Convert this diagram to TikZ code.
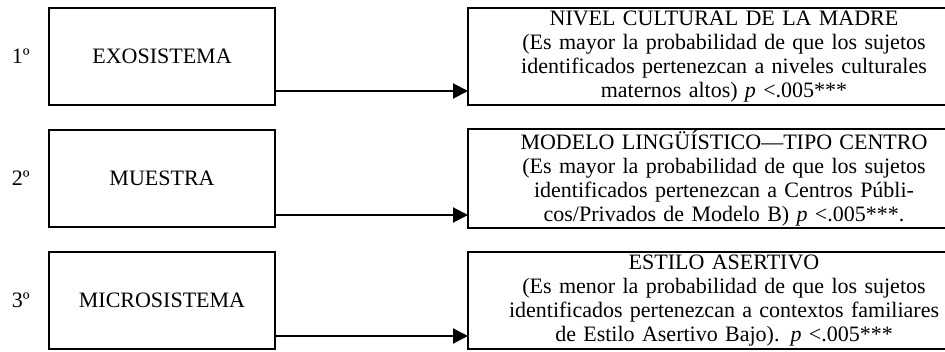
\documentclass[tikz,border=0pt]{standalone}
\usepackage{fontspec}
\setmainfont{Liberation Serif}
\usetikzlibrary{positioning,arrows.meta}
\tikzset{caja/.style={draw,line width=1pt,rectangle,outer sep=0pt,inner sep=0pt,minimum width=113pt,minimum height=48.5pt,node font=\fontsize{11}{12}\selectfont}}
\tikzset{res/.style={caja,text width=250pt,align=center,inner xsep=3pt,inner ysep=1pt}}
\tikzset{ord/.style={inner sep=0pt,node font=\fontsize{11}{12}\selectfont}}
\tikzset{flecha/.style={line width=1pt,-{Triangle[length=7.5pt,width=7.5pt]}}}

\begin{document}
\begin{tikzpicture}
        \useasboundingbox (0,0) rectangle (472.5pt,-176pt);
        \clip (0,0) rectangle (472.5pt,-176pt);
        \node (e1) [caja, anchor=north west] at (24.5pt,-4pt) {EXOSISTEMA};
        \node (e2) [caja, below= 12.5pt of e1] {MUESTRA};
        \node (e3) [caja, below= 12.5pt of e2] {MICROSISTEMA};
        \node (o1) [ord, left= 9.5pt of e1] {1º};
        \node (o2) [ord, left= 9.5pt of e2] {2º};
        \node (o3) [ord, left= 9.5pt of e3] {3º};
        \node (r1) [res, right= 96.5pt of e1] {NIVEL CULTURAL DE LA MADRE\\(Es mayor la probabilidad de que los sujetos\\identificados pertenezcan a niveles culturales\\maternos altos) \textit{p} <.005***};
        \node (r2) [res, right= 96.5pt of e2] {MODELO LINGÜÍSTICO—TIPO CENTRO\\(Es mayor la probabilidad de que los sujetos\\identificados pertenezcan a Centros Públi-\\cos/Privados de Modelo B) \textit{p} <.005***.};
        \node (r3) [res, right= 96.5pt of e3] {ESTILO ASERTIVO\\(Es menor la probabilidad de que los sujetos\\identificados pertenezcan a contextos familiares\\de Estilo Asertivo Bajo). \textit{p} <.005***};
        \draw ([yshift=7pt]e1.south east) edge[flecha] ([yshift=7pt]e1.south east -| r1.west);
        \draw ([yshift=6pt]e2.south east) edge[flecha] ([yshift=6pt]e2.south east -| r2.west);
        \draw ([yshift=6.5pt]e3.south east) edge[flecha] ([yshift=6.5pt]e3.south east -| r3.west);
\end{tikzpicture}
\end{document}
